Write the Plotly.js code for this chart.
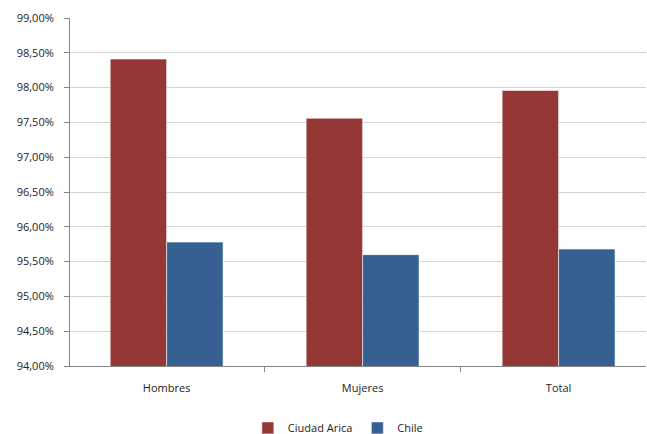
<!DOCTYPE html>
<html>
<head>
<meta charset="utf-8">
<script src="https://cdn.plot.ly/plotly-3.0.1.min.js"></script>
<style>html,body{margin:0;padding:0;background:#fff;}#chart{width:647px;height:434px;}</style>
</head>
<body>
<div id="chart"></div>
<script>
const categories = ["Hombres", "Mujeres", "Total"];
const aricaValues = [0.9841, 0.9756, 0.9796];
const chileValues = [0.9578, 0.9560, 0.9568];
const seriesNames = ["Ciudad Arica", "Chile"];
const yTicks = [0.94, 0.945, 0.95, 0.955, 0.96, 0.965, 0.97, 0.975, 0.98, 0.985, 0.99];

const font = {family: "Open Sans, Liberation Sans, sans-serif", size: 11, color: "#222"};

const traces = [
  {type: "bar", name: seriesNames[0], x: categories, y: aricaValues,
   marker: {color: "#953735", line: {color: "rgba(255,255,255,0.55)", width: 1}}},
  {type: "bar", name: seriesNames[1], x: categories, y: chileValues,
   marker: {color: "#366092", line: {color: "rgba(255,255,255,0.55)", width: 1}}}
];

const layout = {
  width: 647, height: 434,
  margin: {l: 70, r: 1, t: 18, b: 68, autoexpand: false},
  paper_bgcolor: "#fff", plot_bgcolor: "#fff",
  separators: ",.",
  font: font,
  barmode: "group",
  bargap: 0.424, bargroupgap: 0,
  showlegend: true,
  legend: {orientation: "h", x: 0.465, xanchor: "center", yref: "container", y: 0.014, yanchor: "middle",
           font: {family: font.family, size: 11, color: "#222"}, itemwidth: 30, tracegroupgap: 0},
  xaxis: {type: "category", range: [-0.493, 2.446], showgrid: false,
          showline: true, linecolor: "#868686", linewidth: 1,
          ticks: "outside", tickson: "boundaries", ticklen: 5, tickcolor: "#868686",
          ticklabelstandoff: 12,
          tickfont: {family: font.family, size: 11, color: "#222"}, fixedrange: true},
  yaxis: {range: [0.94, 0.99], tickvals: yTicks, tickformat: ".2%",
          showgrid: true, gridcolor: "#d4d4d4", gridwidth: 1,
          showline: true, linecolor: "#868686", linewidth: 1,
          ticks: "outside", ticklen: 5, tickcolor: "#868686",
          ticklabelstandoff: 8,
          tickfont: {family: font.family, size: 11, color: "#222"}, zeroline: false, fixedrange: true}
};

Plotly.newPlot("chart", traces, layout, {displayModeBar: false, staticPlot: true});
</script>
</body>
</html>
